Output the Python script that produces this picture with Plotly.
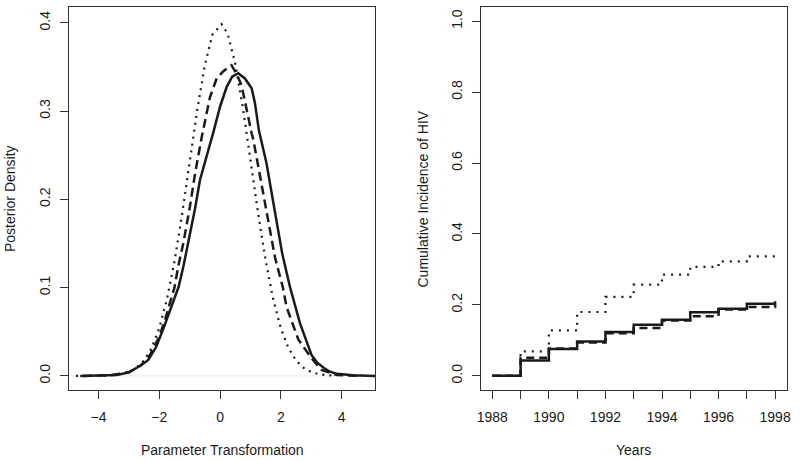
import plotly.graph_objects as go

# ---- Left panel: posterior densities ----
solid_x = [-4.6, -4.0, -3.4, -3.0, -2.85, -2.6, -2.36, -2.1, -1.86, -1.7, -1.53, -1.36, -1.2, -1.04,
           -0.82, -0.66, -0.49, -0.35, -0.22, 0.0, 0.22, 0.4, 0.6, 0.82, 1.04, 1.15, 1.28, 1.53, 1.70,
           1.86, 2.05, 2.30, 2.63, 3.01, 3.2, 3.4, 3.6, 3.84, 4.38, 5.1]
solid_y = [0.0, 0.0003, 0.0011, 0.004, 0.0068, 0.012, 0.018, 0.033, 0.054, 0.069, 0.086, 0.101, 0.125, 0.152,
           0.190, 0.222, 0.2445, 0.260, 0.276, 0.305, 0.3275, 0.339, 0.343, 0.337, 0.326, 0.309, 0.278, 0.241, 0.207,
           0.173, 0.138, 0.101, 0.0597, 0.0238, 0.015, 0.0095, 0.005, 0.0023, 0.0008, 0.0]

dash_x = [-4.5, -3.6, -3.0, -2.6, -2.3, -2.0, -1.8, -1.64, -1.5, -1.37, -1.21, -0.99, -0.82, -0.60, -0.49,
          -0.33, -0.11, 0.1, 0.38, 0.55, 0.71, 0.88, 1.04, 1.10, 1.26, 1.48, 1.70, 1.81, 2.07, 2.19, 2.58,
          3.01, 3.34, 3.84, 4.6]
dash_y = [0.0, 0.0008, 0.004, 0.012, 0.024, 0.044, 0.065, 0.085, 0.100, 0.125, 0.150, 0.192, 0.2295, 0.271, 0.29,
          0.316, 0.337, 0.345, 0.352, 0.342, 0.329, 0.300, 0.275, 0.267, 0.237, 0.1955, 0.154, 0.134, 0.100, 0.078, 0.041,
          0.020, 0.0068, 0.001, 0.0]

dot_x = [-4.74, -4.5, -4.0, -3.5, -3.0, -2.75, -2.5, -2.25, -2.0, -1.75, -1.5, -1.25, -1.0, -0.75, -0.5, -0.25,
         0.05, 0.25, 0.5, 0.75, 1.0, 1.25, 1.5, 1.75, 2.0, 2.25, 2.5, 2.75, 3.0, 3.25, 3.5, 3.72]
dot_y = [0.0, 0.0, 0.0001, 0.0009, 0.0044, 0.0091, 0.0175, 0.0317, 0.0540, 0.0863, 0.1295, 0.1826, 0.2420, 0.3011,
         0.3521, 0.3867, 0.3985, 0.3880, 0.3540, 0.3040, 0.2450, 0.1850, 0.1310, 0.0870, 0.0540, 0.0317, 0.0175,
         0.0091, 0.0044, 0.0020, 0.0009, 0.0004]

# ---- Right panel: cumulative incidence ----
years = [1988, 1989, 1990, 1991, 1992, 1993, 1994, 1995, 1996, 1997, 1998]
inc_solid = [0.0, 0.043, 0.0755, 0.097, 0.1235, 0.144, 0.158, 0.179, 0.189, 0.203, 0.210]
inc_dash = [0.0, 0.051, 0.077, 0.094, 0.120, 0.135, 0.156, 0.168, 0.187, 0.194, 0.200]
inc_dot = [0.0, 0.069, 0.128, 0.180, 0.2225, 0.257, 0.2855, 0.307, 0.323, 0.337, 0.338]

left_xticks = [-4, -2, 0, 2, 4]
left_xtext = ["\u22124", "\u22122", "0", "2", "4"]
left_yticks = [0.0, 0.1, 0.2, 0.3, 0.4]
left_ytext = ["0.0", "0.1", "0.2", "0.3", "0.4"]
right_yticks = [0.0, 0.2, 0.4, 0.6, 0.8, 1.0]
right_ytext = ["0.0", "0.2", "0.4", "0.6", "0.8", "1.0"]
right_xtext = [str(y) if y % 2 == 0 else "" for y in years]

INK = "#1a1a1a"
FONT = "Liberation Sans, Arial, sans-serif"
FS = 14

fig = go.Figure()
fig.add_trace(go.Scatter(x=dot_x, y=dot_y, mode="lines", xaxis="x", yaxis="y",
                         line=dict(color=INK, width=2.2, dash="2px,5px")))
fig.add_trace(go.Scatter(x=dash_x, y=dash_y, mode="lines", xaxis="x", yaxis="y",
                         line=dict(color=INK, width=2.5, dash="9px,5px")))
fig.add_trace(go.Scatter(x=solid_x, y=solid_y, mode="lines", xaxis="x", yaxis="y",
                         line=dict(color=INK, width=2.5)))

fig.add_trace(go.Scatter(x=years, y=inc_dot, mode="lines", xaxis="x2", yaxis="y2", line_shape="hv",
                         line=dict(color=INK, width=2.2, dash="2px,6px")))
fig.add_trace(go.Scatter(x=years, y=inc_dash, mode="lines", xaxis="x2", yaxis="y2", line_shape="hv",
                         line=dict(color=INK, width=2.5, dash="8px,5px")))
fig.add_trace(go.Scatter(x=years, y=inc_solid, mode="lines", xaxis="x2", yaxis="y2", line_shape="hv",
                         line=dict(color=INK, width=2.5)))

ax_common = dict(showline=True, mirror=True, linecolor="#333333", linewidth=1, ticks="outside",
                 ticklen=8, tickcolor="#333333", tickwidth=1, showgrid=False, zeroline=False,
                 automargin=False,
                 tickfont=dict(family=FONT, size=FS, color=INK), tickmode="array")

fig.update_layout(
    width=800, height=461, margin=dict(l=0, r=0, t=0, b=0, autoexpand=False),
    paper_bgcolor="white", plot_bgcolor="white", showlegend=False,
    xaxis=dict(domain=[0.08625, 0.46875], range=[-4.97, 5.1], tickvals=left_xticks, ticktext=left_xtext,
               anchor="y", ticklabelstandoff=6, **ax_common),
    yaxis=dict(domain=[0.154, 0.9848], range=[-0.016, 0.418], tickvals=left_yticks, ticktext=left_ytext,
               anchor="x", tickangle=-90, ticklabelstandoff=4, **ax_common),
    xaxis2=dict(domain=[0.6009, 0.9834], range=[1987.59, 1998.41], tickvals=years, ticktext=right_xtext,
                anchor="y2", ticklabelstandoff=6, **ax_common),
    yaxis2=dict(domain=[0.154, 0.9848], range=[-0.04, 1.04], tickvals=right_yticks, ticktext=right_ytext,
                anchor="x2", tickangle=-90, ticklabelstandoff=4, **ax_common),
)

fig.add_hline(y=0, line=dict(color="#e6e6e6", width=1), xref="x", yref="y", layer="below")

title_font = dict(family=FONT, size=FS, color=INK)
fig.add_annotation(text="Parameter Transformation", x=0.2775, y=1 - 450 / 461, xref="paper", yref="paper",
                   showarrow=False, font=title_font, xanchor="center", yanchor="middle")
fig.add_annotation(text="Years", x=0.7919, y=1 - 450 / 461, xref="paper", yref="paper",
                   showarrow=False, font=title_font, xanchor="center", yanchor="middle")
fig.add_annotation(text="Posterior Density", x=10 / 800, y=1 - 199 / 461, xref="paper", yref="paper",
                   showarrow=False, font=title_font, textangle=-90, xanchor="center", yanchor="middle")
fig.add_annotation(text="Cumulative Incidence of HIV", x=422.5 / 800, y=1 - 199 / 461, xref="paper", yref="paper",
                   showarrow=False, font=title_font, textangle=-90, xanchor="center", yanchor="middle")

fig.write_html("out.html", config={"displayModeBar": False},
               post_script="document.body.style.margin='0';document.body.style.padding='0';")
